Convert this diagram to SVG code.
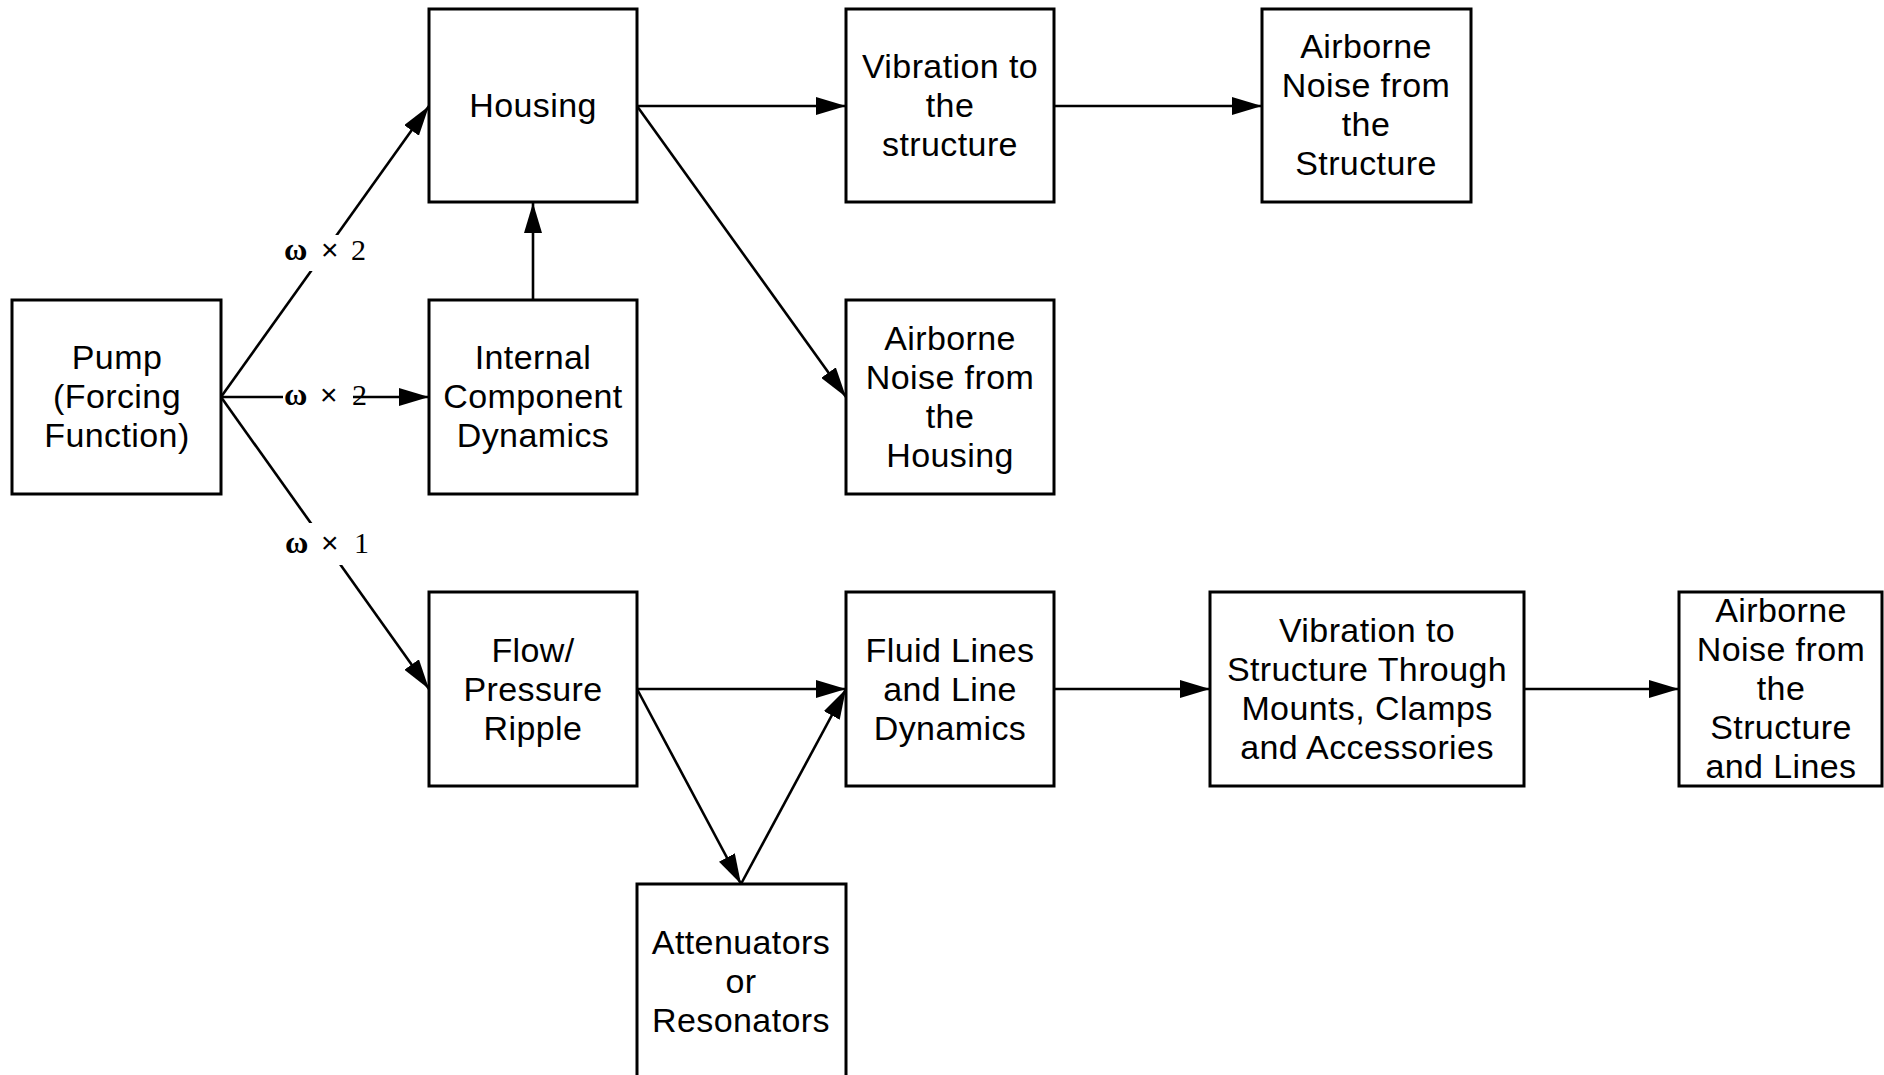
<svg xmlns="http://www.w3.org/2000/svg" width="1884" height="1075" viewBox="0 0 1884 1075">
<style>
.box{fill:#fff;stroke:#000;stroke-width:3}
.t{font-family:"Liberation Sans",Arial,sans-serif;font-size:34px;fill:#000;text-anchor:middle;letter-spacing:0.4px}
.c{stroke:#000;stroke-width:2.6;fill:none;marker-end:url(#arr)}
.lbl{font-family:"Liberation Serif","Times New Roman",serif;font-size:30px;fill:#000}
.w{font-weight:bold;font-size:32px}
.x{font-family:"Liberation Sans",Arial,sans-serif;font-size:30px}
.bg{fill:#fff;stroke:none}
</style>
<defs>
<marker id="arr" markerUnits="userSpaceOnUse" markerWidth="30" markerHeight="18" refX="30" refY="9" orient="auto" viewBox="0 0 30 18">
<path d="M0,0 L30,9 L0,18 z" fill="#000"/>
</marker>
</defs>
<rect width="1884" height="1075" fill="#fff"/>
<g id="connectors">
<line class="c" x1="221" y1="397" x2="429" y2="106"/>
<line class="c" x1="221" y1="397" x2="429" y2="397"/>
<line class="c" x1="221" y1="397" x2="429" y2="689"/>
<line class="c" x1="533" y1="300" x2="533" y2="203"/>
<line class="c" x1="637" y1="106" x2="846" y2="106"/>
<line class="c" x1="637" y1="106" x2="846" y2="397"/>
<line class="c" x1="1054" y1="106" x2="1262" y2="106"/>
<line class="c" x1="637" y1="689" x2="846" y2="689"/>
<line class="c" x1="637" y1="689" x2="741" y2="884"/>
<line class="c" x1="741" y1="884" x2="846" y2="689"/>
<line class="c" x1="1054" y1="689" x2="1210" y2="689"/>
<line class="c" x1="1524" y1="689" x2="1679" y2="689"/>
<rect class="bg" x="281" y="235" width="94" height="36"/>
<text class="lbl" y="260"><tspan class="w" x="284">ω</tspan><tspan class="x" x="321">×</tspan><tspan x="351">2</tspan></text>
<rect class="bg" x="283" y="383" width="70" height="28"/>
<text class="lbl" y="405"><tspan class="w" x="284">ω</tspan><tspan class="x" x="320">×</tspan><tspan x="352">2</tspan></text>
<rect class="bg" x="281" y="523" width="94" height="42"/>
<text class="lbl" y="553"><tspan class="w" x="285">ω</tspan><tspan class="x" x="321">×</tspan><tspan x="354">1</tspan></text>
</g>
<g id="pump">
<rect class="box" x="12" y="300" width="209" height="194"/>
<text class="t" x="117" y="369">Pump</text>
<text class="t" x="117" y="408">(Forcing</text>
<text class="t" x="117" y="447">Function)</text>
</g>
<g id="housing">
<rect class="box" x="429" y="9" width="208" height="193"/>
<text class="t" x="533" y="117">Housing</text>
</g>
<g id="internal">
<rect class="box" x="429" y="300" width="208" height="194"/>
<text class="t" x="533" y="369">Internal</text>
<text class="t" x="533" y="408">Component</text>
<text class="t" x="533" y="447">Dynamics</text>
</g>
<g id="vibration-structure">
<rect class="box" x="846" y="9" width="208" height="193"/>
<text class="t" x="950" y="78">Vibration to</text>
<text class="t" x="950" y="117">the</text>
<text class="t" x="950" y="156">structure</text>
</g>
<g id="airborne-structure">
<rect class="box" x="1262" y="9" width="209" height="193"/>
<text class="t" x="1366" y="58">Airborne</text>
<text class="t" x="1366" y="97">Noise from</text>
<text class="t" x="1366" y="136">the</text>
<text class="t" x="1366" y="175">Structure</text>
</g>
<g id="airborne-housing">
<rect class="box" x="846" y="300" width="208" height="194"/>
<text class="t" x="950" y="350">Airborne</text>
<text class="t" x="950" y="389">Noise from</text>
<text class="t" x="950" y="428">the</text>
<text class="t" x="950" y="467">Housing</text>
</g>
<g id="flow">
<rect class="box" x="429" y="592" width="208" height="194"/>
<text class="t" x="533" y="662">Flow/</text>
<text class="t" x="533" y="701">Pressure</text>
<text class="t" x="533" y="740">Ripple</text>
</g>
<g id="fluid-lines">
<rect class="box" x="846" y="592" width="208" height="194"/>
<text class="t" x="950" y="662">Fluid Lines</text>
<text class="t" x="950" y="701">and Line</text>
<text class="t" x="950" y="740">Dynamics</text>
</g>
<g id="vibration-mounts">
<rect class="box" x="1210" y="592" width="314" height="194"/>
<text class="t" x="1367" y="642">Vibration to</text>
<text class="t" x="1367" y="681">Structure Through</text>
<text class="t" x="1367" y="720">Mounts, Clamps</text>
<text class="t" x="1367" y="759">and Accessories</text>
</g>
<g id="airborne-lines">
<rect class="box" x="1679" y="592" width="203" height="194"/>
<text class="t" x="1781" y="622">Airborne</text>
<text class="t" x="1781" y="661">Noise from</text>
<text class="t" x="1781" y="700">the</text>
<text class="t" x="1781" y="739">Structure</text>
<text class="t" x="1781" y="778">and Lines</text>
</g>
<g id="attenuators">
<rect class="box" x="637" y="884" width="209" height="200"/>
<text class="t" x="741" y="954">Attenuators</text>
<text class="t" x="741" y="993">or</text>
<text class="t" x="741" y="1032">Resonators</text>
</g>
</svg>
